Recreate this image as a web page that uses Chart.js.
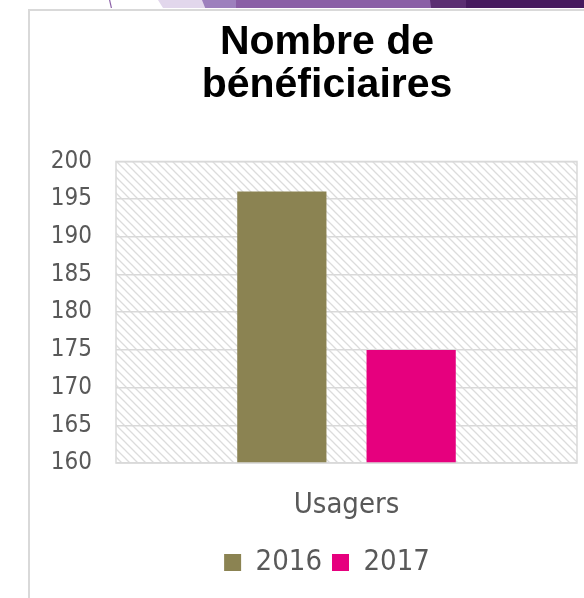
<!DOCTYPE html>
<html>
<head>
<meta charset="utf-8">
<script src="https://cdn.jsdelivr.net/npm/chart.js@4/dist/chart.umd.min.js"></script>
<style>
  html, body { margin: 0; padding: 0; background: #fff; overflow: hidden; }
  body { width: 584px; height: 598px; position: relative; }
  .strip { position: absolute; top: 0; height: 8px; }
  #card { position: absolute; left: 28px; top: 9px; width: 600px; height: 600px;
          border-left: 2px solid #d9d9d9; border-top: 2px solid #d9d9d9; box-sizing: border-box; }
  #wrap { position: absolute; left: 30px; top: 11px; width: 594px; height: 587px; }
</style>
</head>
<body>
<div class="strip" style="left:109px;width:3px;background:#8a5fa6;clip-path:polygon(0 0,40% 0,100% 100%,60% 100%)"></div>
<div class="strip" style="left:158px;width:50px;background:#e2d7ec;clip-path:polygon(0 0,100% 0,100% 100%,10% 100%)"></div>
<div class="strip" style="left:202px;width:40px;background:#9d80bd;clip-path:polygon(0 0,100% 0,90% 100%,8% 100%)"></div>
<div class="strip" style="left:236px;width:196px;background:#8a5fa6;"></div>
<div class="strip" style="left:430px;width:38px;background:#5b2e72;clip-path:polygon(0 0,100% 0,100% 100%,3% 100%)"></div>
<div class="strip" style="left:466px;width:118px;background:#461a5e;"></div>
<div id="card"></div>
<div id="wrap"><canvas id="chart"></canvas></div>
<script>
const categories = ['Usagers'];
const seriesNames = ['2016', '2017'];
const values2016 = [196];
const values2017 = [175];
const yMin = 160, yMax = 200, yStep = 5;

const textColor = '#595959';
const bodyFont = "'DejaVu Sans Condensed', 'DejaVu Sans', sans-serif";

// hatched plot background like the Excel pattern fill
function makeHatch() {
    const c = document.createElement('canvas');
    c.width = 8; c.height = 8;
    const g = c.getContext('2d');
    g.strokeStyle = '#dcdcdc';
    g.lineWidth = 1.3;
    g.beginPath();
    g.moveTo(-1, -1); g.lineTo(9, 9);
    g.moveTo(-5, 3); g.lineTo(5, 13);
    g.moveTo(3, -5); g.lineTo(13, 5);
    g.stroke();
    return c;
}

const plotBackground = {
    id: 'plotBackground',
    beforeDraw(chart) {
        const { ctx, chartArea: a } = chart;
        ctx.save();
        ctx.fillStyle = ctx.createPattern(makeHatch(), 'repeat');
        ctx.fillRect(a.left, a.top, a.width, a.height);
        ctx.restore();
    },
    afterDatasetsDraw(chart) {
        const { ctx, chartArea: a } = chart;
        ctx.save();
        ctx.strokeStyle = '#d9d9d9';
        ctx.lineWidth = 1.5;
        ctx.strokeRect(a.left, a.top, a.width, a.height);
        ctx.restore();
    }
};

const ctx = document.getElementById('chart').getContext('2d');
new Chart(ctx, {
    type: 'bar',
    data: {
        labels: categories,
        datasets: [{
            label: seriesNames[0],
            data: values2016,
            backgroundColor: '#8b8352'
        }, {
            label: seriesNames[1],
            data: values2017,
            backgroundColor: '#e6007e'
        }]
    },
    options: {
        responsive: true,
        maintainAspectRatio: false,
        animation: false,
        categoryPercentage: 0.561,
        barPercentage: 0.69,
        layout: { padding: { top: 0, bottom: 11, left: 0, right: 0 } },
        plugins: {
            title: {
                display: true,
                text: ['Nombre de', 'bénéficiaires'],
                color: '#000',
                font: { family: "'Liberation Sans', Arial, sans-serif", size: 41, weight: 'bold', lineHeight: 1.03 },
                padding: { top: 11, bottom: 55 }
            },
            legend: {
                position: 'bottom',
                labels: {
                    color: textColor,
                    font: { family: bodyFont, size: 29 },
                    boxWidth: 17,
                    boxHeight: 17,
                    padding: 10
                }
            },
            tooltip: { enabled: false }
        },
        scales: {
            x: {
                afterFit(s) { s.height = 75; },
                grid: { display: false },
                border: { display: false },
                ticks: { color: textColor, font: { family: bodyFont, size: 29 }, padding: 17 }
            },
            y: {
                min: yMin,
                max: yMax,
                afterFit(s) { s.width = 86; },
                grid: { color: '#d9d9d9', lineWidth: 1.5, drawTicks: false },
                border: { display: false },
                ticks: { stepSize: yStep, color: textColor, font: { family: bodyFont, size: 24 }, padding: 24 }
            },
            yRight: {
                position: 'right',
                afterFit(s) { s.width = 47; },
                grid: { display: false },
                border: { display: false },
                ticks: { display: false }
            }
        }
    },
    plugins: [plotBackground]
});
</script>
</body>
</html>
